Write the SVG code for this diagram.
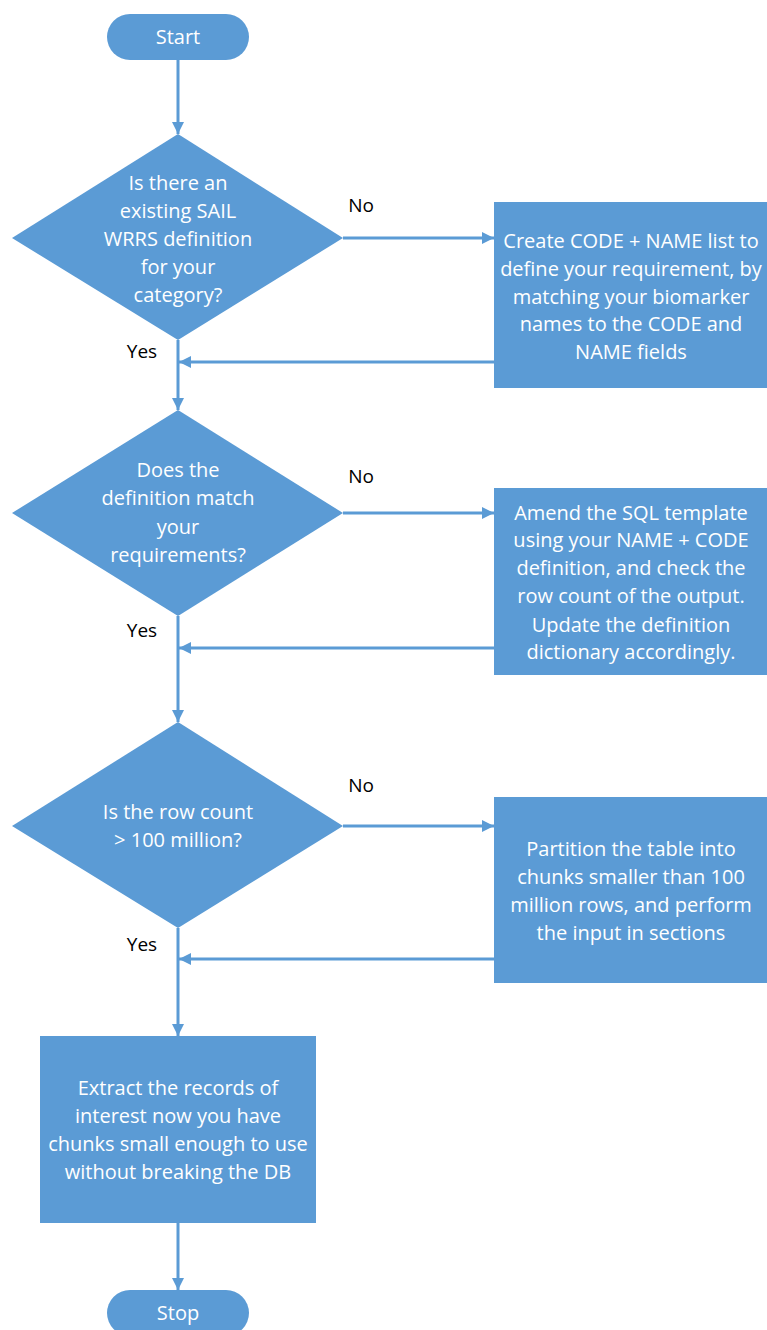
<svg xmlns="http://www.w3.org/2000/svg" width="767" height="1330" viewBox="0 0 767 1330">
<style>
.shape{fill:#5B9BD5;}
.t{font-family:"Open Sans","Liberation Sans",sans-serif;font-size:20px;fill:#ffffff;text-anchor:middle;}
.lbl{font-family:"Open Sans","Liberation Sans",sans-serif;font-size:19px;fill:#000000;text-anchor:middle;}
.c{stroke:#5B9BD5;stroke-width:3;fill:none;}
</style>
<defs>
<marker id="ah" viewBox="0 0 10 10" refX="10" refY="5" markerWidth="4" markerHeight="4" orient="auto" markerUnits="strokeWidth">
<path d="M0,0 L10,5 L0,10 z" fill="#5B9BD5"/>
</marker>
</defs>
<g id="connectors">
<path class="c" d="M178,60 V134" marker-end="url(#ah)"/>
<path class="c" d="M343,238 H494" marker-end="url(#ah)"/>
<path class="c" d="M494,362 H179" marker-end="url(#ah)"/>
<path class="c" d="M178,340 V410" marker-end="url(#ah)"/>
<path class="c" d="M343,513 H494" marker-end="url(#ah)"/>
<path class="c" d="M494,648 H179" marker-end="url(#ah)"/>
<path class="c" d="M178,616 V722" marker-end="url(#ah)"/>
<path class="c" d="M343,826 H494" marker-end="url(#ah)"/>
<path class="c" d="M494,959 H179" marker-end="url(#ah)"/>
<path class="c" d="M178,928 V1036" marker-end="url(#ah)"/>
<path class="c" d="M178,1223 V1290" marker-end="url(#ah)"/>
<text class="lbl" x="361" y="212">No</text>
<text class="lbl" x="142" y="358">Yes</text>
<text class="lbl" x="361" y="483">No</text>
<text class="lbl" x="142" y="637">Yes</text>
<text class="lbl" x="361" y="792">No</text>
<text class="lbl" x="142" y="951">Yes</text>
</g>
<g id="start">
<rect class="shape" x="107" y="14" width="142" height="46" rx="23"/>
<text class="t" x="178" y="44">Start</text>
</g>
<g id="decision1">
<polygon class="shape" points="178,134 343,238 178,340 12,238"/>
<text class="t" x="178" y="190">Is there an</text>
<text class="t" x="178" y="218">existing SAIL</text>
<text class="t" x="178" y="246">WRRS definition</text>
<text class="t" x="178" y="274">for your</text>
<text class="t" x="178" y="302">category?</text>
</g>
<g id="box1">
<rect class="shape" x="494" y="202" width="273" height="186"/>
<text class="t" x="631" y="248">Create CODE + NAME list to</text>
<text class="t" x="631" y="276">define your requirement, by</text>
<text class="t" x="631" y="304">matching your biomarker</text>
<text class="t" x="631" y="331">names to the CODE and</text>
<text class="t" x="631" y="359">NAME fields</text>
</g>
<g id="decision2">
<polygon class="shape" points="178,410 343,513 178,616 12,513"/>
<text class="t" x="178" y="477">Does the</text>
<text class="t" x="178" y="505">definition match</text>
<text class="t" x="178" y="534">your</text>
<text class="t" x="178" y="562">requirements?</text>
</g>
<g id="box2">
<rect class="shape" x="494" y="488" width="273" height="187"/>
<text class="t" x="631" y="520">Amend the SQL template</text>
<text class="t" x="631" y="547">using your NAME + CODE</text>
<text class="t" x="631" y="575">definition, and check the</text>
<text class="t" x="631" y="603">row count of the output.</text>
<text class="t" x="631" y="632">Update the definition</text>
<text class="t" x="631" y="659">dictionary accordingly.</text>
</g>
<g id="decision3">
<polygon class="shape" points="178,722 343,826 178,928 12,826"/>
<text class="t" x="178" y="819">Is the row count</text>
<text class="t" x="178" y="847">&gt; 100 million?</text>
</g>
<g id="box3">
<rect class="shape" x="494" y="797" width="273" height="186"/>
<text class="t" x="631" y="856">Partition the table into</text>
<text class="t" x="631" y="884">chunks smaller than 100</text>
<text class="t" x="631" y="912">million rows, and perform</text>
<text class="t" x="631" y="940">the input in sections</text>
</g>
<g id="box4">
<rect class="shape" x="40" y="1036" width="276" height="187"/>
<text class="t" x="178" y="1095">Extract the records of</text>
<text class="t" x="178" y="1123">interest now you have</text>
<text class="t" x="178" y="1151">chunks small enough to use</text>
<text class="t" x="178" y="1179">without breaking the DB</text>
</g>
<g id="stop">
<rect class="shape" x="107" y="1290" width="142" height="46" rx="23"/>
<text class="t" x="178" y="1320">Stop</text>
</g>
</svg>
